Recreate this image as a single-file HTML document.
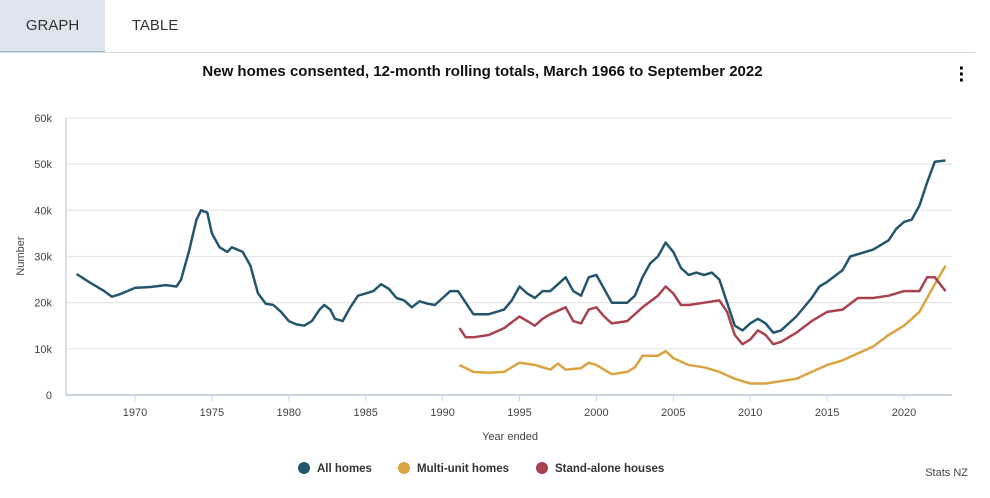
<!DOCTYPE html>
<html><head><meta charset="utf-8"><style>
body{margin:0;width:990px;height:498px;background:#fff;font-family:"Liberation Sans",sans-serif;overflow:hidden;position:relative}
.tab{position:absolute;top:0;height:51px;line-height:51px;font-size:15px;color:#333;text-align:center}
</style></head><body>
<div class="tab" style="left:0;width:105px;background:#dde6ee;border-bottom:2px solid #9fb4c6">GRAPH</div>
<div class="tab" style="left:105px;width:100px">TABLE</div>
<div style="position:absolute;left:0;top:52px;width:975px;height:1px;background:#d8dde2"></div>
<div style="position:absolute;left:0;width:965px;top:63px;text-align:center;font-weight:bold;font-size:15px;color:#111">New homes consented, 12-month rolling totals, March 1966 to September 2022</div>
<div style="position:absolute;left:954px;top:66px;width:16px;font-size:20px;font-weight:bold;line-height:6px;text-align:center">·<br>·<br>·</div>
<svg id="c" width="990" height="498" style="position:absolute;left:0;top:0"></svg>
<script>
const yearsAll=[1966.2,1967,1968,1968.5,1969,1970,1971,1972,1972.7,1973,1973.5,1974,1974.3,1974.7,1975,1975.5,1976,1976.3,1977,1977.5,1978,1978.5,1979,1979.5,1980,1980.5,1981,1981.5,1982,1982.3,1982.7,1983,1983.5,1984,1984.5,1985,1985.5,1986,1986.5,1987,1987.5,1988,1988.5,1989,1989.5,1990,1990.5,1991,1991.5,1992,1993,1994,1994.5,1995,1995.5,1996,1996.5,1997,1997.5,1998,1998.5,1999,1999.5,2000,2000.5,2001,2002,2002.5,2003,2003.5,2004,2004.5,2005,2005.5,2006,2006.5,2007,2007.5,2008,2008.5,2009,2009.5,2010,2010.5,2011,2011.5,2012,2013,2014,2014.5,2015,2016,2016.5,2017,2018,2019,2019.5,2020,2020.5,2021,2021.5,2022,2022.7];
const allHomes=[26.2,24.5,22.5,21.3,21.8,23.2,23.4,23.8,23.5,25,31,38,40,39.5,35,32,31,32,31,28,22,19.8,19.5,18,16,15.3,15,16,18.5,19.5,18.5,16.5,16,19,21.5,22,22.5,24,23,21,20.5,19,20.3,19.8,19.5,21,22.5,22.5,20,17.5,17.5,18.5,20.5,23.5,22,21,22.5,22.5,24,25.5,22.5,21.5,25.5,26,23,20,20,21.5,25.5,28.5,30,33,31,27.5,26,26.5,26,26.5,25,20,15,14,15.5,16.5,15.5,13.5,14,17,21,23.5,24.5,27,30,30.5,31.5,33.5,36,37.5,38,41,46,50.5,50.8];
const yearsStand=[1991.1,1991.5,1992,1993,1994,1995,1995.5,1996,1996.5,1997,1998,1998.5,1999,1999.5,2000,2000.5,2001,2002,2003,2004,2004.5,2005,2005.5,2006,2007,2008,2008.5,2009,2009.5,2010,2010.5,2011,2011.5,2012,2013,2014,2015,2016,2017,2018,2019,2020,2021,2021.5,2022,2022.7];
const standAlone=[14.5,12.5,12.5,13,14.5,17,16,15,16.5,17.5,19,16,15.5,18.5,19,17,15.5,16,19,21.5,23.5,22,19.5,19.5,20,20.5,18,13,11,12,14,13,11,11.5,13.5,16,18,18.5,21,21,21.5,22.5,22.5,25.5,25.5,22.5];
const yearsMulti=[1991.1,1992,1993,1994,1995,1996,1997,1997.5,1998,1999,1999.5,2000,2001,2002,2002.5,2003,2004,2004.5,2005,2006,2007,2008,2009,2010,2011,2012,2013,2014,2015,2016,2017,2018,2019,2020,2021,2022,2022.7];
const multiUnit=[6.5,5,4.8,5,7,6.5,5.5,6.8,5.5,5.8,7,6.5,4.5,5,6,8.5,8.5,9.5,8,6.5,6,5,3.5,2.5,2.5,3,3.5,5,6.5,7.5,9,10.5,13,15,18,24,28];
const yTicks=[0,10,20,30,40,50,60];
const yTickLabels=["0","10k","20k","30k","40k","50k","60k"];
const xTicks=[1970,1975,1980,1985,1990,1995,2000,2005,2010,2015,2020];
const X=y=>135+(y-1970)*15.38;
const Y=v=>395-v*4.617;
const svg=document.getElementById('c');
const NS='http://www.w3.org/2000/svg';
function mk(t,a,txt){const e=document.createElementNS(NS,t);for(const k in a)e.setAttribute(k,a[k]);if(txt!=null)e.textContent=txt;svg.appendChild(e);return e;}
yTicks.forEach((v,i)=>{
 const g=mk('line',{x1:66,x2:952,y1:Y(v),y2:Y(v),stroke:v===0?'#ccd6e0':'#e6e6e6','stroke-width':v===0?2:1.2});
 
 
 const t=mk('text',{x:52,y:Y(v)+4,'text-anchor':'end','font-size':11,fill:'#444'},yTickLabels[i]);
 
 
});
const ax=mk('line',{x1:66,x2:66,y1:118,y2:396,stroke:'#ccd6e0','stroke-width':1.5});


xTicks.forEach(y=>{
 const l=mk('line',{x1:X(y),x2:X(y),y1:395,y2:401,stroke:'#ccd6e0'});
 
 
 const t=mk('text',{x:X(y),y:416,'text-anchor':'middle','font-size':11,fill:'#444'},String(y));
 
 
});
const xt=mk('text',{x:510,y:440,'text-anchor':'middle','font-size':11,fill:'#444'},'Year ended');


const yt=mk('text',{x:0,y:0,transform:'translate(24,256) rotate(-90)','text-anchor':'middle','font-size':11,fill:'#444'},'Number');


function series(xs,vs,col,name){
 const d=xs.map((x,i)=>(i?'L':'M')+X(x).toFixed(1)+' '+Y(vs[i]).toFixed(1)).join(' ');
 const p=mk('path',{d:d,fill:'none',stroke:col,'stroke-width':2.5,'stroke-linejoin':'round'});
 
 
}
series(yearsMulti,multiUnit,'#d9a441','multi-unit-line');
series(yearsStand,standAlone,'#a8424f','stand-alone-line');
series(yearsAll,allHomes,'#23566c','all-homes-line');
const leg=[[304,'#23566c','All homes','legend-all-homes'],[404,'#d9a441','Multi-unit homes','legend-multi-unit'],[542,'#a8424f','Stand-alone houses','legend-stand-alone']];
leg.forEach(([x,c,t,n])=>{
 const ci=mk('circle',{cx:x,cy:468,r:6,fill:c});
 
 
 const tx=mk('text',{x:x+13,y:472,'font-size':11.5,'font-weight':'bold',fill:'#333'},t);
 
 
});
const s=mk('text',{x:968,y:476,'text-anchor':'end','font-size':11,fill:'#444'},'Stats NZ');


</script>
</body></html>
